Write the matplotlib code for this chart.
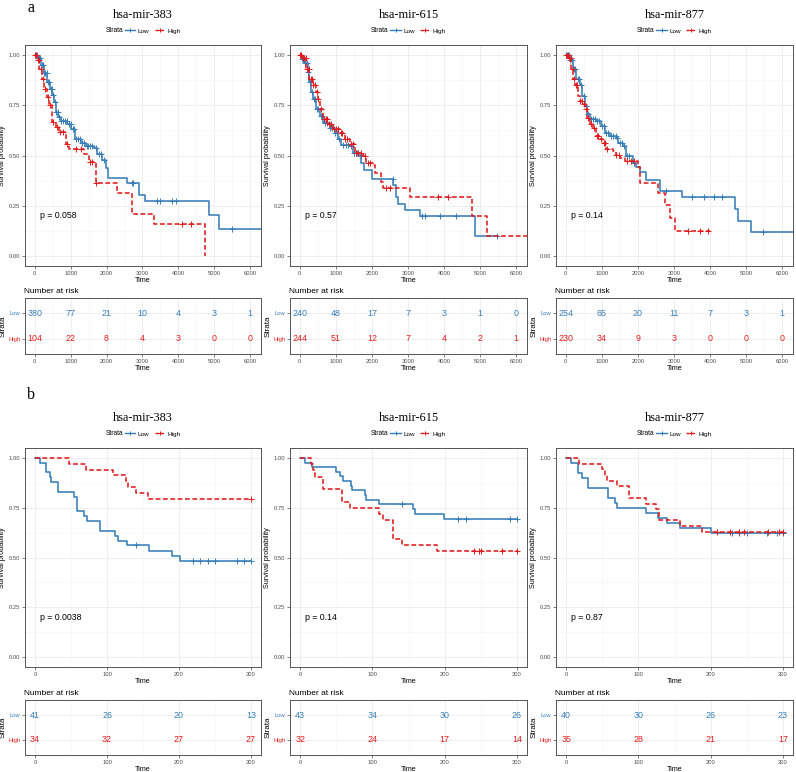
import numpy as np
import matplotlib.pyplot as plt
from matplotlib.lines import Line2D
from matplotlib.ticker import MultipleLocator

W, H = 796, 772
LOW_COLOR = "#377EB8"
HIGH_COLOR = "#E41A1C"
SANS = "Liberation Sans"
SERIF = "Liberation Serif"

mirnas = ["hsa-mir-383", "hsa-mir-615", "hsa-mir-877"]

# ---------------- a: long follow-up ----------------
a383_low_t = [0, 74, 167, 259, 352, 426, 491, 537, 584, 648, 723, 908, 1020, 1112, 1279, 1418,
              1649, 1742, 1881, 1974, 2040, 2577, 2900, 3058, 4865, 5143, 6500]
a383_low_s = [1.0, 0.985, 0.951, 0.909, 0.867, 0.833, 0.800, 0.766, 0.716, 0.690, 0.673, 0.657,
              0.631, 0.581, 0.564, 0.547, 0.539, 0.505, 0.480, 0.440, 0.390, 0.365, 0.303, 0.273,
              0.205, 0.135, 0.135]
a383_low_cens = [30, 55, 95, 120, 150, 190, 230, 270, 300, 330, 380, 410, 450, 470, 520, 560, 600,
                 640, 680, 740, 790, 850, 900, 960, 1000, 1060, 1090, 1150, 1200, 1250, 1320, 1380,
                 1450, 1490, 1540, 1600, 1700, 1780, 1840, 1920, 2700, 2750, 3410, 3500, 3830,
                 3920, 5480]
a383_high_t = [0, 60, 130, 200, 259, 330, 398, 491, 580, 676, 862, 954, 1371, 1500, 1700, 2298,
               2697, 3317, 4754]
a383_high_s = [1.0, 0.975, 0.930, 0.880, 0.833, 0.790, 0.749, 0.665, 0.640, 0.615, 0.556, 0.530,
               0.505, 0.466, 0.362, 0.315, 0.210, 0.160, 0.0]
a383_high_cens = [20, 45, 80, 110, 170, 220, 300, 360, 420, 520, 610, 700, 780, 900, 1140, 1280,
                  1540, 1590, 1720, 4105, 4340]

a615_low_t = [0, 60, 131, 223, 270, 316, 362, 455, 548, 640, 825, 965, 1056, 1150, 1382, 1474,
              1660, 1707, 1780, 2000, 2586, 2679, 2725, 2910, 3327, 4855, 5470]
a615_low_s = [1.0, 0.980, 0.958, 0.916, 0.866, 0.815, 0.782, 0.731, 0.697, 0.664, 0.639, 0.614,
              0.580, 0.551, 0.546, 0.513, 0.496, 0.462, 0.429, 0.382, 0.353, 0.294, 0.261, 0.227,
              0.197, 0.097, 0.097]
a615_low_cens = [25, 70, 110, 150, 200, 240, 290, 340, 400, 430, 480, 520, 590, 620, 700, 760,
                 850, 900, 980, 1020, 1100, 1200, 1280, 1350, 1420, 1500, 1560, 1600, 1700, 2580,
                 3380, 3480, 3900, 4330, 5470]
a615_high_t = [0, 50, 177, 270, 362, 455, 501, 548, 640, 779, 918, 1104, 1243, 1382, 1521, 1753,
               1845, 2030, 2077, 2250, 2308, 3049, 4762, 5178, 6500]
a615_high_s = [1.0, 0.985, 0.933, 0.882, 0.849, 0.815, 0.782, 0.731, 0.681, 0.656, 0.630, 0.614,
               0.580, 0.555, 0.513, 0.496, 0.462, 0.454, 0.412, 0.370, 0.339, 0.294, 0.197, 0.097,
               0.097]
a615_high_cens = [15, 40, 80, 120, 160, 200, 250, 300, 330, 380, 420, 470, 520, 580, 660, 720,
                  760, 820, 870, 950, 1000, 1060, 1130, 1180, 1250, 1300, 1420, 1470, 1560, 1620,
                  1700, 1800, 1900, 1950, 2400, 2500, 3830, 4110]

a877_low_t = [0, 111, 203, 296, 388, 462, 526, 590, 665, 850, 988, 1080, 1219, 1404, 1450, 1588,
              1681, 1865, 1958, 2050, 2220, 2621, 3220, 4682, 4766, 5143, 6500]
a877_low_s = [1.0, 0.975, 0.933, 0.882, 0.849, 0.798, 0.748, 0.706, 0.681, 0.672, 0.647, 0.614,
              0.597, 0.588, 0.563, 0.546, 0.496, 0.462, 0.445, 0.420, 0.378, 0.324, 0.294, 0.235,
              0.176, 0.118, 0.118]
a877_low_cens = [30, 80, 130, 170, 220, 260, 330, 360, 420, 500, 560, 620, 700, 760, 820, 880,
                 920, 1000, 1050, 1120, 1180, 1250, 1300, 1380, 1420, 1500, 1560, 1620, 1700,
                 1750, 1900, 2780, 3510, 3830, 4110, 4330, 5470]
a877_high_t = [0, 65, 157, 203, 249, 342, 388, 462, 526, 590, 665, 757, 831, 942, 1034, 1127,
               1311, 1385, 1496, 1634, 2003, 2050, 2558, 2742, 2881, 3020, 3990]
a877_high_s = [1.0, 0.983, 0.933, 0.882, 0.849, 0.798, 0.773, 0.756, 0.731, 0.689, 0.656, 0.639,
               0.597, 0.580, 0.563, 0.530, 0.521, 0.504, 0.488, 0.471, 0.445, 0.365, 0.314, 0.252,
               0.190, 0.126, 0.126]
a877_high_cens = [20, 50, 100, 140, 190, 230, 280, 320, 400, 440, 500, 560, 630, 700, 780, 860,
                  900, 980, 1050, 1100, 1150, 1400, 1480, 1700, 1800, 1900, 3390, 3710, 3940]

a_pvals = ["p = 0.058", "p = 0.57", "p = 0.14"]
a_risk_times = [0, 1000, 2000, 3000, 4000, 5000, 6000]
a_risk_low = [[380, 77, 21, 10, 4, 3, 1], [240, 48, 17, 7, 3, 1, 0], [254, 65, 20, 11, 7, 3, 1]]
a_risk_high = [[104, 22, 8, 4, 3, 0, 0], [244, 51, 12, 7, 4, 2, 1], [230, 34, 9, 3, 0, 0, 0]]

# ---------------- b: 300 time units ----------------
b383_low_t = [0, 7, 15.8, 20.4, 21.8, 32, 54.3, 58, 68.2, 71.5, 89.6, 110.9, 115.5, 127.6, 158.2,
              189.7, 200.8, 300]
b383_low_s = [1.0, 0.976, 0.927, 0.902, 0.878, 0.829, 0.805, 0.732, 0.707, 0.683, 0.634, 0.610,
              0.585, 0.561, 0.535, 0.510, 0.484, 0.484]
b383_low_cens = [140, 219, 229, 240, 250, 281, 291, 300]
b383_high_t = [0, 47.3, 70.5, 108.5, 126.2, 128.5, 140, 156.3, 300]
b383_high_s = [1.0, 0.971, 0.941, 0.912, 0.882, 0.853, 0.824, 0.794, 0.794]
b383_high_cens = [300]

b615_low_t = [0, 6.5, 17.1, 49.5, 55, 58.7, 69.8, 71.2, 89.2, 91, 109.6, 156.7, 159, 199.7, 300]
b615_low_s = [1.0, 0.977, 0.953, 0.930, 0.907, 0.884, 0.860, 0.837, 0.814, 0.791, 0.767, 0.743,
              0.719, 0.695, 0.695]
b615_low_cens = [140.5, 219, 229, 291, 300]
b615_high_t = [0, 15.7, 17.5, 20, 31, 57.3, 68.9, 109.6, 115, 129, 140.5, 189, 300]
b615_high_s = [1.0, 0.969, 0.938, 0.906, 0.844, 0.781, 0.750, 0.719, 0.688, 0.594, 0.563, 0.533,
               0.533]
b615_high_cens = [240, 247, 250, 279, 300]

b877_low_t = [0, 6.5, 17, 21.7, 30.9, 57.7, 67.8, 70.2, 110.8, 127.8, 139.4, 157.8, 200.3, 300]
b877_low_s = [1.0, 0.975, 0.925, 0.900, 0.850, 0.800, 0.775, 0.750, 0.725, 0.700, 0.675, 0.650,
              0.625, 0.625]
b877_low_cens = [229, 238.6, 250, 278, 291.7, 300]
b877_high_t = [0, 18.5, 49.4, 54, 57.2, 71, 87.7, 110, 125, 129, 157.8, 187.8, 300]
b877_high_s = [1.0, 0.971, 0.943, 0.914, 0.886, 0.857, 0.800, 0.771, 0.743, 0.686, 0.657, 0.629,
               0.629]
b877_high_cens = [208.6, 227, 238.6, 246, 278.8, 294, 300]

b_pvals = ["p = 0.0038", "p = 0.14", "p = 0.87"]
b_risk_times = [0, 100, 200, 300]
b_risk_low = [[41, 26, 20, 13], [43, 34, 30, 26], [40, 30, 26, 23]]
b_risk_high = [[34, 32, 27, 27], [32, 24, 17, 14], [35, 28, 21, 17]]

a_curves = [
    ((a383_low_t, a383_low_s, a383_low_cens), (a383_high_t, a383_high_s, a383_high_cens)),
    ((a615_low_t, a615_low_s, a615_low_cens), (a615_high_t, a615_high_s, a615_high_cens)),
    ((a877_low_t, a877_low_s, a877_low_cens), (a877_high_t, a877_high_s, a877_high_cens)),
]
b_curves = [
    ((b383_low_t, b383_low_s, b383_low_cens), (b383_high_t, b383_high_s, b383_high_cens)),
    ((b615_low_t, b615_low_s, b615_low_cens), (b615_high_t, b615_high_s, b615_high_cens)),
    ((b877_low_t, b877_low_s, b877_low_cens), (b877_high_t, b877_high_s, b877_high_cens)),
]

# layout in pixels
cols = [(25, 261), (290, 527), (556, 793)]
rows = {
    "a": dict(main=(45, 266), table=(298, 354), letter_y=0.5, xlim=(-270, 6300), major=1000,
              minor=500, pval_x=150, curves=a_curves, pvals=a_pvals, rt=a_risk_times,
              rlow=a_risk_low, rhigh=a_risk_high),
    "b": dict(main=(448, 667), table=(700, 755), letter_y=387, xlim=(-14, 314), major=100,
              minor=50, pval_x=7, curves=b_curves, pvals=b_pvals, rt=b_risk_times,
              rlow=b_risk_low, rhigh=b_risk_high),
}

fig = plt.figure(figsize=(W / 100, H / 100), dpi=100)


def px_axes(left, top, right, bottom):
    return fig.add_axes([left / W, 1 - bottom / H, (right - left) / W, (bottom - top) / H])


def style(ax, r):
    for sp in ax.spines.values():
        sp.set_color("#555555")
        sp.set_linewidth(0.7)
    ax.set_xlim(*r["xlim"])
    ax.xaxis.set_major_locator(MultipleLocator(r["major"]))
    ax.xaxis.set_minor_locator(MultipleLocator(r["minor"]))
    ax.grid(which="major", color="#EBEBEB", lw=0.6)
    ax.grid(which="minor", color="#F3F3F3", lw=0.4)
    ax.set_axisbelow(True)
    ax.tick_params(which="major", labelsize=4.2, colors="#4D4D4D", length=2, width=0.5, pad=1.5)
    ax.tick_params(which="minor", length=0)
    for lab in ax.get_xticklabels() + ax.get_yticklabels():
        lab.set_family(SANS)
    ax.set_xlabel("Time", fontsize=5.2, family=SANS, labelpad=1)


def surv_at(t, s, tc):
    idx = np.searchsorted(np.asarray(t), np.asarray(tc), side="right") - 1
    return np.asarray(s)[idx]


for key, r in rows.items():
    fig.text(31 / W, 1 - r["letter_y"] / H, key, family=SERIF, fontsize=11.5, ha="center", va="top")
    for c, (left, right) in enumerate(cols):
        width = right - left
        ax = px_axes(left, r["main"][0], right, r["main"][1])
        ax.set_xticks(np.arange(0, r["xlim"][1], r["major"]))
        style(ax, r)
        ax.set_ylim(-0.05, 1.05)
        ax.set_yticks([0, 0.25, 0.5, 0.75, 1.0])
        ax.yaxis.set_minor_locator(MultipleLocator(0.125))
        ax.set_yticklabels(["0.00", "0.25", "0.50", "0.75", "1.00"], family=SANS)
        ax.set_ylabel("Survival probability", fontsize=5.2, family=SANS)
        ax.yaxis.set_label_coords(-19 / width, 0.5)
        low, high = r["curves"][c]
        for (t, s, cens), color, ls in ((low, LOW_COLOR, "-"), (high, HIGH_COLOR, (0, (3, 1.6)))):
            ax.step(t, s, where="post", color=color, lw=1.15, ls=ls)
            ax.plot(cens, surv_at(t, s, cens), ls="none", marker="+", ms=4, mew=0.7, color=color)
        ax.text(r["pval_x"], 0.2, r["pvals"][c], fontsize=6.3, family=SANS, ha="left", va="center")
        h_main = r["main"][1] - r["main"][0]
        ax.text(0.5, 1 + 29.5 / h_main, mirnas[c],
                transform=ax.transAxes, ha="center", va="center", family=SERIF, fontsize=8.8)
        # legend
        ly = 1 + 14 / h_main
        ax.text((123 - 25) / 236, ly, "Strata", transform=ax.transAxes, ha="right", va="center",
                fontsize=4.8, family=SANS)
        handles = [Line2D([], [], color=LOW_COLOR, lw=1.0, marker="+", ms=3.5, mew=0.7),
                   Line2D([], [], color=HIGH_COLOR, lw=1.0, ls=(0, (2.5, 1.2)), marker="+", ms=3.5,
                          mew=0.7)]
        ax.legend(handles, ["Low", "High"], loc="center left", bbox_to_anchor=((125 - 25) / 236, ly),
                  ncol=2, frameon=False, handlelength=1.6, handletextpad=0.4, columnspacing=0.8,
                  borderpad=0, borderaxespad=0, prop={"family": SANS, "size": 4.6})

        # risk table
        tb = px_axes(left, r["table"][0], right, r["table"][1])
        tb.set_xticks(np.arange(0, r["xlim"][1], r["major"]))
        style(tb, r)
        tb.set_ylim(0.4, 2.6)
        tb.set_yticks([2, 1])
        tb.set_yticklabels(["Low", "High"], family=SANS)
        for lab, col in zip(tb.get_yticklabels(), (LOW_COLOR, HIGH_COLOR)):
            lab.set_color(col)
        tb.set_ylabel("Strata", fontsize=5.8, family=SANS)
        tb.yaxis.set_label_coords(-18 / width, 0.5)
        for x, nl, nh in zip(r["rt"], r["rlow"][c], r["rhigh"][c]):
            tb.text(x, 2, str(nl), color=LOW_COLOR, ha="center", va="center", fontsize=6.4, family=SANS)
            tb.text(x, 1, str(nh), color=HIGH_COLOR, ha="center", va="center", fontsize=6.4, family=SANS)
        h_tab = r["table"][1] - r["table"][0]
        tb.text(-0.005, 1 + 6.5 / h_tab, "Number at risk", transform=tb.transAxes, ha="left",
                va="center", fontsize=6.0, family=SANS)

fig.savefig("out.png", dpi=100)
